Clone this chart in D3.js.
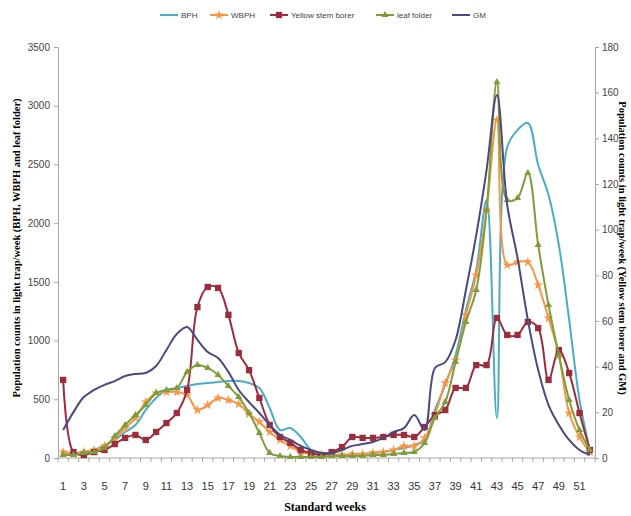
<!DOCTYPE html>
<html>
<head>
<meta charset="utf-8">
<script src="https://cdn.jsdelivr.net/npm/d3@7"></script>
<style>
  body { margin: 0; background: #fff; }
</style>
</head>
<body>
<div id="chart"></div>
<script>
// Standard weeks 1..52
var weeks = d3.range(1, 53);

// Left axis series (counts)
var bph = [51, 43, 51, 68, 111, 153, 221, 281, 409, 511, 579, 596, 613, 630, 639, 647, 656, 656, 639, 596,
  426, 238, 255, 179, 68, 34, 26, 26, 26, 34, 43, 51, 68, 85, 111, 153, 409, 622, 877, 1260,
  1601, 2197, 341, 2648, 2793, 2853, 2495, 2240, 1814, 1175, 494, 68];
var wbph = [51, 34, 51, 68, 102, 170, 255, 340, 477, 553, 562, 562, 536, 409, 451, 511, 494, 460, 375, 307,
  221, 153, 102, 51, 34, 26, 26, 26, 34, 34, 43, 51, 68, 102, 102, 170, 366, 639, 834, 1218,
  1558, 2112, 2878, 1643, 1669, 1669, 1473, 1192, 877, 383, 179, 51];
var leafFolder = [26, 26, 43, 51, 85, 187, 281, 366, 451, 553, 579, 596, 732, 792, 767, 707, 613, 519, 383, 213,
  43, 17, 9, 9, 9, 9, 17, 17, 17, 17, 26, 26, 34, 43, 51, 128, 341, 477, 818, 1158,
  1431, 2112, 3200, 2197, 2214, 2427, 1814, 1303, 877, 494, 238, 68];

// Right axis series (counts)
var ysb = [34.2, 2.6, 1.3, 2.6, 3.5, 6.1, 8.8, 10.1, 7.9, 11.4, 15.3, 19.7, 29.8, 66.1, 74.9, 74.5, 62.7, 46, 38.5, 26.3,
  14.5, 9.2, 6.6, 3.5, 2.2, 1.3, 2.6, 4.8, 9.2, 8.8, 8.8, 9.2, 10.1, 10.1, 9.2, 13.6, 18.8, 21, 30.7, 30.7,
  40.7, 40.7, 61.3, 53.9, 53.9, 59.6, 56.9, 34.2, 47.3, 37.2, 19.7, 3.5];
var gm = [12.3, 20.1, 26.7, 29.8, 32, 33.7, 35.9, 36.8, 37.2, 40.3, 47.3, 54.3, 57.4, 51.7, 46.4, 43.8, 37.7, 29.8, 24.5, 19.7,
  14.5, 10.1, 7.9, 5.3, 3.5, 2.2, 2.2, 3.5, 5.3, 6.1, 7, 8.8, 11.4, 13.1, 18.8, 12.3, 39.4, 42, 51.7, 73.6,
  97.6, 126.1, 159, 110.8, 87.6, 60.4, 38.5, 23.2, 14.5, 7.9, 3.5, 1.3];

var leftTicks = [0, 500, 1000, 1500, 2000, 2500, 3000, 3500];
var rightTicks = [0, 20, 40, 60, 80, 100, 120, 140, 160, 180];
var xTickLabels = d3.range(1, 53, 2);

var width = 631;
var height = 516;
var plotLeft = 58, plotRight = 595, plotTop = 47, plotBottom = 458;

var svg = d3
  .select("#chart")
  .append("svg")
  .attr("width", width)
  .attr("height", height);

var x = d3.scalePoint().domain(weeks).range([plotLeft, plotRight]).padding(0.5);
var band = (plotRight - plotLeft) / weeks.length;
var yLeft = d3.scaleLinear().domain([0, 3500]).range([plotBottom, plotTop]);
var yRight = d3.scaleLinear().domain([0, 180]).range([plotBottom, plotTop]);

var axisFont = "'Liberation Sans Narrow', 'Liberation Sans', sans-serif";

// Left axis
var gLeft = svg
  .append("g")
  .attr("transform", "translate(" + plotLeft + ",0)")
  .call(d3.axisLeft(yLeft).tickValues(leftTicks).tickFormat(d3.format("d")).tickSize(4).tickPadding(4));

// Right axis
var gRight = svg
  .append("g")
  .attr("transform", "translate(" + plotRight + ",0)")
  .call(d3.axisRight(yRight).tickValues(rightTicks).tickFormat(d3.format("d")).tickSize(4).tickPadding(3));

// Bottom axis: ticks at category boundaries, labels at odd weeks
svg
  .append("line")
  .attr("x1", plotLeft)
  .attr("x2", plotRight)
  .attr("y1", plotBottom)
  .attr("y2", plotBottom)
  .attr("stroke", "#a6a6a6");

svg
  .selectAll("xtick")
  .data(d3.range(0, weeks.length + 1))
  .enter()
  .append("line")
  .attr("x1", function (d) { return plotLeft + d * band; })
  .attr("x2", function (d) { return plotLeft + d * band; })
  .attr("y1", plotBottom)
  .attr("y2", plotBottom + 4)
  .attr("stroke", "#a6a6a6");

svg
  .selectAll("xlabel")
  .data(xTickLabels)
  .enter()
  .append("text")
  .attr("x", function (d) { return x(d); })
  .attr("y", 490)
  .attr("text-anchor", "middle")
  .style("font-family", axisFont)
  .style("font-size", "11px")
  .style("fill", "#333")
  .text(function (d) { return d; });

[gLeft, gRight].forEach(function (g) {
  g.select(".domain").attr("stroke", "#a6a6a6");
  g.selectAll(".tick line").attr("stroke", "#a6a6a6");
  g.selectAll(".tick text")
    .style("font-family", axisFont)
    .style("font-size", "10px")
    .style("fill", "#444");
});

// Axis titles
svg
  .append("text")
  .attr("x", 325)
  .attr("y", 511)
  .attr("text-anchor", "middle")
  .style("font-family", "'Liberation Serif', serif")
  .style("font-weight", "bold")
  .style("font-size", "12px")
  .text("Standard weeks");

svg
  .append("text")
  .attr("transform", "translate(20,248) rotate(-90)")
  .attr("text-anchor", "middle")
  .style("font-family", "'Liberation Serif', serif")
  .style("font-weight", "bold")
  .style("font-size", "10.5px")
  .text("Population counts in light trap/week (BPH, WBPH and leaf folder)");

svg
  .append("text")
  .attr("transform", "translate(619,248) rotate(90)")
  .attr("text-anchor", "middle")
  .style("font-family", "'Liberation Serif', serif")
  .style("font-weight", "bold")
  .style("font-size", "10.5px")
  .text("Population counts in light trap/week (Yellow stem borer and GM)");

// Series definitions
var series = [
  { name: "BPH", values: bph, y: yLeft, color: "#4bacc6", symbol: null },
  { name: "WBPH", values: wbph, y: yLeft, color: "#f79646", symbol: d3.symbolStar, size: 30 },
  { name: "Yellow stem borer", values: ysb, y: yRight, color: "#9b2d3c", symbol: d3.symbolSquare, size: 40 },
  { name: "leaf folder", values: leafFolder, y: yLeft, color: "#7f9d3c", symbol: d3.symbolTriangle, size: 22 },
  { name: "GM", values: gm, y: yRight, color: "#4a4a80", symbol: null }
];

series.forEach(function (s) {
  var line = d3
    .line()
    .x(function (d, i) { return x(weeks[i]); })
    .y(function (d) { return s.y(d); })
    .curve(d3.curveCatmullRom);

  svg
    .append("path")
    .datum(s.values)
    .attr("d", line)
    .attr("fill", "none")
    .attr("stroke", s.color)
    .attr("stroke-width", 2);

  if (s.symbol) {
    svg
      .selectAll("marks")
      .data(s.values)
      .enter()
      .append("path")
      .attr("d", d3.symbol().type(s.symbol).size(s.size))
      .attr("transform", function (d, i) {
        return "translate(" + x(weeks[i]) + "," + s.y(d) + ")";
      })
      .attr("fill", s.color);
  }
});

// Legend
var legendX = [160, 210, 270, 376, 452];
var legend = svg
  .selectAll("legend")
  .data(series)
  .enter()
  .append("g")
  .attr("transform", function (d, i) {
    return "translate(" + legendX[i] + ",15)";
  });

legend
  .append("line")
  .attr("x1", 0)
  .attr("x2", 18)
  .attr("stroke", function (d) { return d.color; })
  .attr("stroke-width", 2);

legend
  .filter(function (d) { return d.symbol; })
  .append("path")
  .attr("d", function (d) { return d3.symbol().type(d.symbol).size(d.size)(); })
  .attr("transform", "translate(9,0)")
  .attr("fill", function (d) { return d.color; });

legend
  .append("text")
  .attr("x", 21)
  .attr("y", 0)
  .attr("dy", ".35em")
  .style("font-family", axisFont)
  .style("font-size", "8px")
  .style("fill", "#444")
  .text(function (d) { return d.name; });
</script>
</body>
</html>
